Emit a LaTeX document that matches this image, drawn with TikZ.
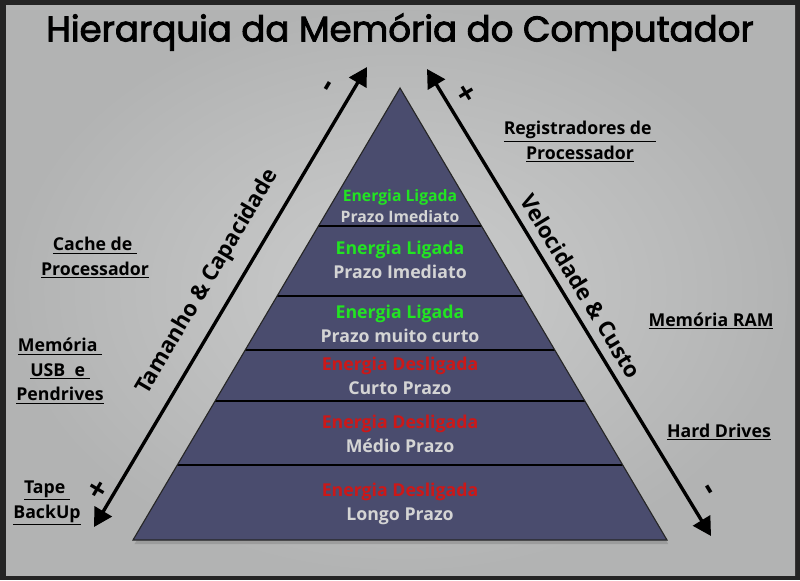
\documentclass[tikz,border=0pt]{standalone}
\usepackage{fontspec}
\setmainfont{Open Sans}
\newfontfamily\titlefont[FakeBold=2.5]{Poppins}
\usetikzlibrary{arrows.meta,shadows}

\definecolor{fundo}{RGB}{204,205,205}
\definecolor{fundoborda}{RGB}{178,179,179}
\definecolor{moldura}{RGB}{36,36,36}
\definecolor{piramide}{RGB}{74,76,110}
\definecolor{ligada}{RGB}{34,228,34}
\definecolor{desligada}{RGB}{204,24,24}
\definecolor{prazo}{RGB}{212,212,212}

\tikzset{
  faixa/.style={align=center, text=prazo, font=\bfseries\fontsize{12.6}{17.5}\selectfont},
  rotulo/.style={align=center, text=black, font=\bfseries\fontsize{12.6}{17.5}\selectfont},
  seta/.style={line width=2.4pt, {Triangle[length=13pt,width=14pt]}-{Triangle[length=13pt,width=14pt]}},
  sinal/.style={font=\bfseries\fontsize{22}{22}\selectfont},
  eixo/.style={font=\bfseries\fontsize{15.7}{16}\selectfont},
}

\begin{document}
\begin{tikzpicture}[x=0.025cm, y=-0.025cm]
    \useasboundingbox (0,0) rectangle (800,580);
    % Fundo e moldura
    \fill[moldura] (0,0) rectangle (800,580);
    \shade[inner color=fundo, outer color=fundoborda] (6,5) rectangle (795,575);
    % Titulo
    \node[font=\titlefont\fontsize{25.3}{26}\selectfont] (titulo) at (400,32)
        {Hierarquia da Memória do Computador};
    % Piramide
    \coordinate (topo) at (400,88);
    \coordinate (baseE) at (133,540);
    \coordinate (baseD) at (667,540);
    \fill[piramide, drop shadow={shadow xshift=1pt, shadow yshift=-3pt, opacity=0.45}]
        (topo) -- (baseD) -- (baseE) -- cycle;
    % Divisoes entre niveis
    \foreach \y in {226,296,350,401,465}
        \draw[line width=1.5pt] ({400-0.5907*(\y-88)},\y) -- ({400+0.5907*(\y-88)},\y);
    \draw[line width=0.8pt, black!85] (topo) -- (baseD) -- (baseE) -- cycle;
    % Textos dos niveis
    \node[faixa, font=\bfseries\fontsize{11.2}{15}\selectfont] (nivelA) at (400,206)
        {\textcolor{ligada}{Energia Ligada}\\Prazo Imediato};
    \node[faixa] (nivelB) at (400,260) {\textcolor{ligada}{Energia Ligada}\\Prazo Imediato};
    \node[faixa] (nivelC) at (400,324) {\textcolor{ligada}{Energia Ligada}\\Prazo muito curto};
    \node[faixa] (nivelD) at (400,376) {\textcolor{desligada}{Energia Desligada}\\Curto Prazo};
    \node[faixa] (nivelE) at (400,434) {\textcolor{desligada}{Energia Desligada}\\Médio Prazo};
    \node[faixa] (nivelF) at (400,504) {\textcolor{desligada}{Energia Desligada}\\Longo Prazo};
    % Setas laterais
    \coordinate (tamanhoTopo) at (367,67);
    \coordinate (tamanhoBase) at (94,527);
    \coordinate (velocTopo) at (427,69);
    \coordinate (velocBase) at (711,536);
    \draw[seta] (tamanhoTopo) -- (tamanhoBase);
    \draw[seta] (velocTopo) -- (velocBase);
    \node[eixo, rotate=59.3] (tamanho) at (208,282) {Tamanho \& Capacidade};
    \node[eixo, rotate=-58.7] (velocidade) at (581,286) {Velocidade \& Custo};
    \node[sinal, rotate=59.3] (menosE) at (331,88) {-};
    \node[sinal, rotate=59.3] (maisE) at (99,490) {+};
    \node[sinal, rotate=-58.7] (maisD) at (465,94) {+};
    \node[sinal, rotate=-58.7] (menosD) at (706,491) {-};
    % Rotulos das memorias
    \node[rotulo] (registradores) at (580,142) {\underline{Registradores de\ }\\\underline{Processador}};
    \node[rotulo] (cache) at (95,258) {\underline{Cache de\ }\\\underline{Processador}};
    \node[rotulo] (ram) at (711,321) {\underline{Memória RAM}};
    \node[rotulo] (usb) at (60,371) {\underline{Memória\ }\\\underline{USB\ \ e\ }\\\underline{Pendrives}};
    \node[rotulo] (hd) at (719,432) {\underline{Hard Drives}};
    \node[rotulo] (fita) at (47,503) {\underline{Tape\ }\\\underline{BackUp}};
\end{tikzpicture}
\end{document}
